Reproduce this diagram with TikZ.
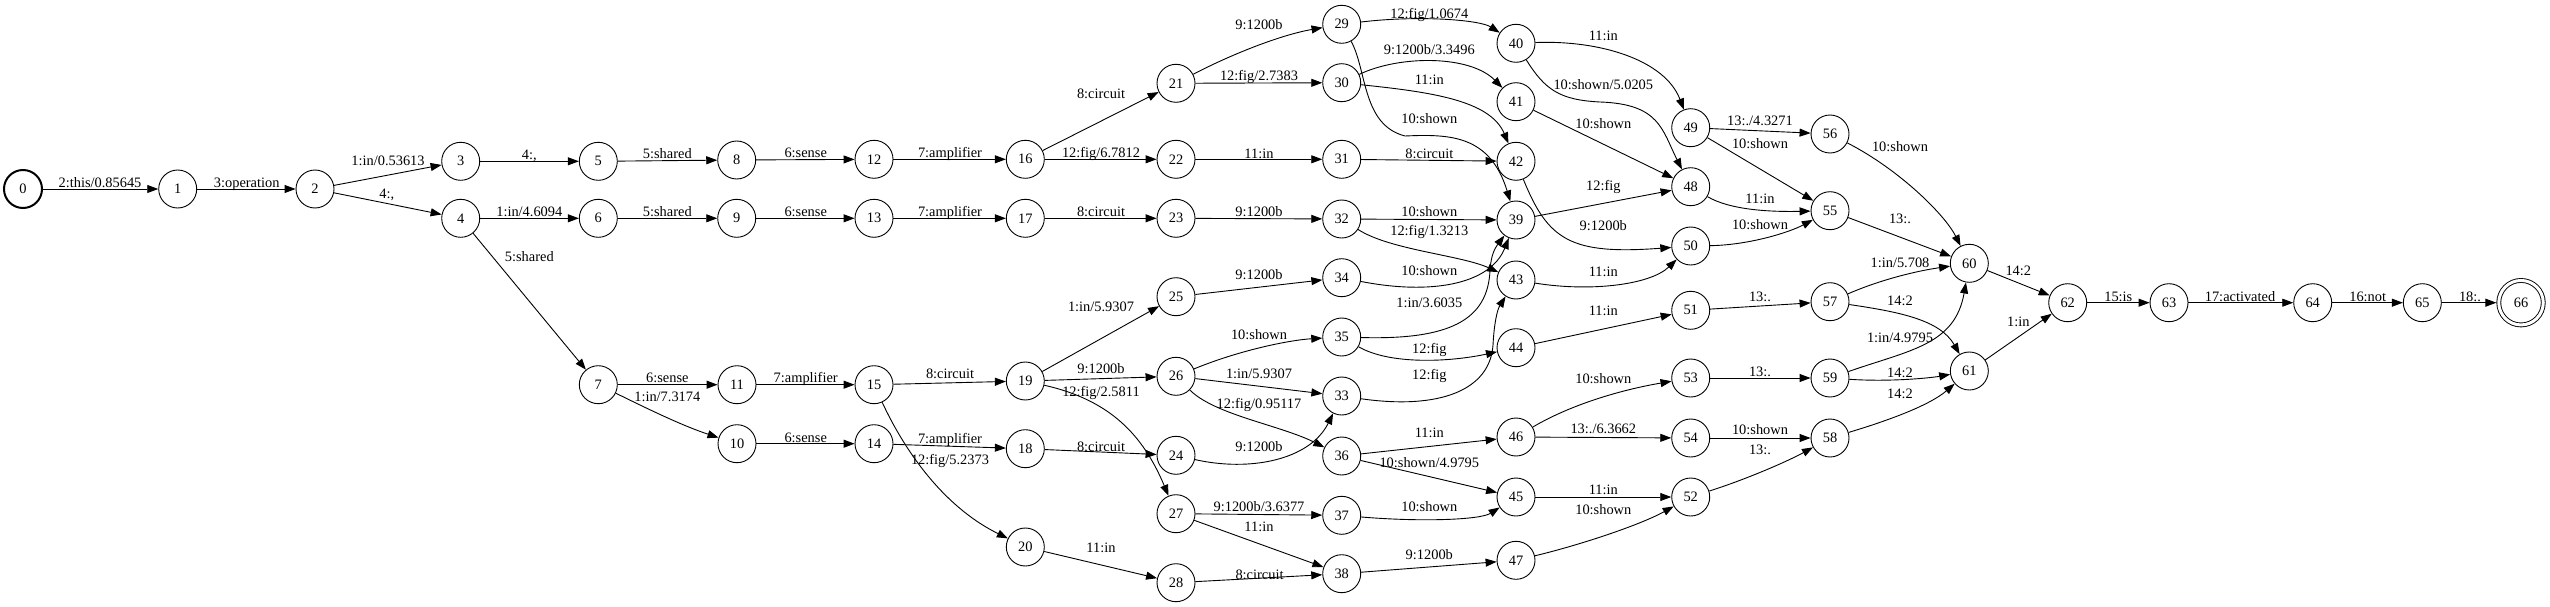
\documentclass[tikz,border=0pt]{standalone}
\usepackage{fontspec}
\setmainfont{Liberation Serif}
\usetikzlibrary{arrows.meta}
\tikzset{
  state/.style={circle, draw, line width=0.9pt, minimum size=38pt, inner sep=0pt, font=\fontsize{14.4}{16}\selectfont},
  final/.style={state, double, double distance=3pt, minimum size=44.5pt, outer sep=2.4pt},
  arr/.style={-{Triangle[length=11pt,width=8pt]}, line width=0.9pt},
  lbl/.style={inner sep=0pt, text height=10pt, text depth=0pt, font=\fontsize{14.4}{16}\selectfont},
}
\begin{document}
\begin{tikzpicture}[x=1pt,y=1pt,yscale=-1]
\useasboundingbox (0,0) rectangle (2550,607);

%Shape: Circle states
\node[state, line width=2pt] (n0) at (23,189) {0};
\node[state] (n1) at (177.7,189) {1};
\node[state] (n2) at (315,189) {2};
\node[state] (n3) at (460.7,161.3) {3};
\node[state] (n4) at (460.7,218.3) {4};
\node[state] (n5) at (598.3,161.3) {5};
\node[state] (n6) at (598.3,218.3) {6};
\node[state] (n7) at (598.3,384.7) {7};
\node[state] (n8) at (736.7,160) {8};
\node[state] (n9) at (736.7,218.3) {9};
\node[state] (n10) at (737,443.7) {10};
\node[state] (n11) at (737,384.7) {11};
\node[state] (n12) at (874,159.3) {12};
\node[state] (n13) at (874,218.3) {13};
\node[state] (n14) at (874,443.7) {14};
\node[state] (n15) at (874,384.7) {15};
\node[state] (n16) at (1025.3,159.3) {16};
\node[state] (n17) at (1025.3,218.3) {17};
\node[state] (n18) at (1025.3,448.7) {18};
\node[state] (n19) at (1025.3,381) {19};
\node[state] (n20) at (1025.3,547) {20};
\node[state] (n21) at (1176,83.3) {21};
\node[state] (n22) at (1176,159.3) {22};
\node[state] (n23) at (1176,218.3) {23};
\node[state] (n24) at (1176,455.3) {24};
\node[state] (n25) at (1176,296.7) {25};
\node[state] (n26) at (1176,376.3) {26};
\node[state] (n27) at (1176,513.7) {27};
\node[state] (n28) at (1176,582.7) {28};
\node[state] (n29) at (1341.7,24.3) {29};
\node[state] (n30) at (1341.7,82.7) {30};
\node[state] (n31) at (1341.7,159.3) {31};
\node[state] (n32) at (1341.7,219) {32};
\node[state] (n33) at (1341.7,396) {33};
\node[state] (n34) at (1341.7,277.7) {34};
\node[state] (n35) at (1341.7,337) {35};
\node[state] (n36) at (1341.7,456) {36};
\node[state] (n37) at (1341.7,515.3) {37};
\node[state] (n38) at (1341.7,573.7) {38};
\node[state] (n39) at (1516,220) {39};
\node[state] (n40) at (1516,43.3) {40};
\node[state] (n41) at (1516,101.7) {41};
\node[state] (n42) at (1516,161.3) {42};
\node[state] (n43) at (1516,280) {43};
\node[state] (n44) at (1516,347.7) {44};
\node[state] (n45) at (1516,497) {45};
\node[state] (n46) at (1516,437) {46};
\node[state] (n47) at (1516,560.3) {47};
\node[state] (n48) at (1690.7,186.7) {48};
\node[state] (n49) at (1690.7,127.7) {49};
\node[state] (n50) at (1690.7,246) {50};
\node[state] (n51) at (1690.7,310.3) {51};
\node[state] (n52) at (1690.7,497) {52};
\node[state] (n53) at (1690.7,378) {53};
\node[state] (n54) at (1690.7,438) {54};
\node[state] (n55) at (1830,210.7) {55};
\node[state] (n56) at (1830,134) {56};
\node[state] (n57) at (1830,301.7) {57};
\node[state] (n58) at (1830,438) {58};
\node[state] (n59) at (1830,378) {59};
\node[state] (n60) at (1969.3,263.3) {60};
\node[state] (n61) at (1969.3,371) {61};
\node[state] (n62) at (2067.7,302.7) {62};
\node[state] (n63) at (2169,302.7) {63};
\node[state] (n64) at (2312.7,302.7) {64};
\node[state] (n65) at (2422.3,302.7) {65};
\node[final] (n66) at (2521,302.7) {66};

%Straight Lines and Curve Lines
\draw[arr] (n0) -- (n1);
\draw[arr] (n1) -- (n2);
\draw[arr] (n2) -- (n3);
\draw[arr] (n2) -- (n4);
\draw[arr] (n3) -- (n5);
\draw[arr] (n5) -- (n8);
\draw[arr] (n8) -- (n12);
\draw[arr] (n4) -- (n6);
\draw[arr] (n6) -- (n9);
\draw[arr] (n9) -- (n13);
\draw[arr] (n4) -- (n7);
\draw[arr] (n7) -- (n11);
\draw[arr] (n7) .. controls (640,405) and (680,425) .. (n10);
\draw[arr] (n11) -- (n15);
\draw[arr] (n10) -- (n14);
\draw[arr] (n12) -- (n16);
\draw[arr] (n13) -- (n17);
\draw[arr] (n16) -- (n21);
\draw[arr] (n16) -- (n22);
\draw[arr] (n17) -- (n23);
\draw[arr] (n15) -- (n19);
\draw[arr] (n14) -- (n18);
\draw[arr] (n15) .. controls (902,445) and (940,505) .. (n20);
\draw[arr] (n18) -- (n24);
\draw[arr] (n19) -- (n25);
\draw[arr] (n19) -- (n26);
\draw[arr] (n19) .. controls (1110,400) and (1143,435) .. (n27);
\draw[arr] (n20) -- (n28);
\draw[arr] (n21) .. controls (1230,55) and (1280,35) .. (n29);
\draw[arr] (n21) -- (n30);
\draw[arr] (n22) -- (n31);
\draw[arr] (n23) -- (n32);
\draw[arr] (n25) -- (n34);
\draw[arr] (n24) .. controls (1250,472) and (1310,460) .. (n33);
\draw[arr] (n26) .. controls (1240,350) and (1290,340) .. (n35);
\draw[arr] (n26) -- (n33);
\draw[arr] (n26) .. controls (1215,415) and (1280,425) .. (n36);
\draw[arr] (n27) -- (n37);
\draw[arr] (n27) -- (n38);
\draw[arr] (n28) -- (n38);
\draw[arr] (n29) .. controls (1420,15) and (1480,20) .. (n40);
\draw[arr] (n29) .. controls (1367,70) and (1362,125) .. (1405,136) .. controls (1450,134) and (1490,135) .. (n39);
\draw[arr] (n30) .. controls (1400,55) and (1470,55) .. (n41);
\draw[arr] (n30) .. controls (1430,92) and (1490,100) .. (n42);
\draw[arr] (n31) -- (n42);
\draw[arr] (n32) -- (n39);
\draw[arr] (n32) .. controls (1390,250) and (1460,255) .. (n43);
\draw[arr] (n34) .. controls (1430,295) and (1490,285) .. (n39);
\draw[arr] (n35) .. controls (1450,340) and (1488,320) .. (1490,270) .. controls (1491,255) and (1495,248) .. (n39);
\draw[arr] (n35) .. controls (1390,365) and (1450,362) .. (n44);
\draw[arr] (n33) .. controls (1440,410) and (1490,390) .. (1493,345) .. controls (1494,325) and (1497,310) .. (n43);
\draw[arr] (n36) -- (n46);
\draw[arr] (n36) -- (n45);
\draw[arr] (n37) .. controls (1420,522) and (1480,520) .. (n45);
\draw[arr] (n38) -- (n47);
\draw[arr] (n40) .. controls (1600,40) and (1665,60) .. (n49);
\draw[arr] (n40) .. controls (1545,90) and (1560,100) .. (1600,102) .. controls (1660,104) and (1662,130) .. (n48);
\draw[arr] (n41) -- (n48);
\draw[arr] (n39) -- (n48);
\draw[arr] (n42) .. controls (1548,240) and (1570,255) .. (n50);
\draw[arr] (n43) .. controls (1590,292) and (1650,285) .. (n50);
\draw[arr] (n44) -- (n51);
\draw[arr] (n46) .. controls (1570,405) and (1620,390) .. (n53);
\draw[arr] (n46) -- (n54);
\draw[arr] (n45) -- (n52);
\draw[arr] (n47) .. controls (1580,545) and (1640,525) .. (n52);
\draw[arr] (n49) -- (n56);
\draw[arr] (n49) -- (n55);
\draw[arr] (n48) .. controls (1730,210) and (1770,212) .. (n55);
\draw[arr] (n50) .. controls (1750,245) and (1790,232) .. (n55);
\draw[arr] (n51) -- (n57);
\draw[arr] (n53) -- (n59);
\draw[arr] (n54) -- (n58);
\draw[arr] (n52) .. controls (1750,478) and (1790,460) .. (n58);
\draw[arr] (n56) .. controls (1900,170) and (1945,215) .. (n60);
\draw[arr] (n55) -- (n60);
\draw[arr] (n57) .. controls (1875,282) and (1910,272) .. (n60);
\draw[arr] (n57) .. controls (1900,312) and (1940,320) .. (n61);
\draw[arr] (n59) .. controls (1910,350) and (1955,345) .. (n60);
\draw[arr] (n59) .. controls (1890,382) and (1930,378) .. (n61);
\draw[arr] (n58) .. controls (1890,420) and (1930,405) .. (n61);
\draw[arr] (n60) -- (n62);
\draw[arr] (n61) -- (n62);
\draw[arr] (n62) -- (n63);
\draw[arr] (n63) -- (n64);
\draw[arr] (n64) -- (n65);
\draw[arr] (n65) -- (n66);

% Text Node
\draw (100,182) node [lbl] (t0-1) {2:this/0.85645};
\draw (246.7,182) node [lbl] (t1-2) {3:operation};
\draw (388,160) node [lbl] (t2-3) {1:in/0.53613};
\draw (386.7,193.3) node [lbl] (t2-4) {4:,};
\draw (529.3,155) node [lbl] (t3-5) {4:,};
\draw (667.3,153.3) node [lbl] (t5-8) {5:shared};
\draw (805.7,152.7) node [lbl] (t8-12) {6:sense};
\draw (529.3,211) node [lbl] (t4-6) {1:in/4.6094};
\draw (667.3,211) node [lbl] (t6-9) {5:shared};
\draw (805.7,211.7) node [lbl] (t9-13) {6:sense};
\draw (529.3,256) node [lbl] (t4-7) {5:shared};
\draw (667.3,377.7) node [lbl] (t7-11) {6:sense};
\draw (667.3,396.3) node [lbl] (t7-10) {1:in/7.3174};
\draw (805.7,377.7) node [lbl] (t11-15) {7:amplifier};
\draw (805.7,437.7) node [lbl] (t10-14) {6:sense};
\draw (950,152.7) node [lbl] (t12-16) {7:amplifier};
\draw (950,211.7) node [lbl] (t13-17) {7:amplifier};
\draw (950,373.7) node [lbl] (t15-19) {8:circuit};
\draw (950,438.7) node [lbl] (t14-18) {7:amplifier};
\draw (950,459.3) node [lbl] (t15-20) {12:fig/5.2373};
\draw (1101,93.3) node [lbl] (t16-21) {8:circuit};
\draw (1101,152.7) node [lbl] (t16-22) {12:fig/6.7812};
\draw (1101,211.7) node [lbl] (t17-23) {8:circuit};
\draw (1101,306.3) node [lbl] (t19-25) {1:in/5.9307};
\draw (1101,368.7) node [lbl] (t19-26) {9:1200b};
\draw (1101,391.3) node [lbl] (t19-27) {12:fig/2.5811};
\draw (1101,446) node [lbl] (t18-24) {8:circuit};
\draw (1101,547.7) node [lbl] (t20-28) {11:in};
\draw (1259,25) node [lbl] (t21-29) {9:1200b};
\draw (1259,76) node [lbl] (t21-30) {12:fig/2.7383};
\draw (1259,153) node [lbl] (t22-31) {11:in};
\draw (1259,211) node [lbl] (t23-32) {9:1200b};
\draw (1259,274) node [lbl] (t25-34) {9:1200b};
\draw (1259,334) node [lbl] (t26-35) {10:shown};
\draw (1259,373.5) node [lbl] (t26-33) {1:in/5.9307};
\draw (1259,403) node [lbl] (t26-36) {12:fig/0.95117};
\draw (1259,446) node [lbl] (t24-33) {9:1200b};
\draw (1259,506.3) node [lbl] (t27-37) {9:1200b/3.6377};
\draw (1259,526) node [lbl] (t27-38) {11:in};
\draw (1259.5,574) node [lbl] (t28-38) {8:circuit};
\draw (1429.3,13.3) node [lbl] (t29-40) {12:fig/1.0674};
\draw (1429.3,49.3) node [lbl] (t30-41) {9:1200b/3.3496};
\draw (1429.3,80) node [lbl] (t30-42) {11:in};
\draw (1429.3,118.3) node [lbl] (t29-39) {10:shown};
\draw (1429.3,153.3) node [lbl] (t31-42) {8:circuit};
\draw (1429.3,211.7) node [lbl] (t32-39) {10:shown};
\draw (1429.3,230.7) node [lbl] (t32-43) {12:fig/1.3213};
\draw (1429.3,270) node [lbl] (t34-39) {10:shown};
\draw (1429.3,302) node [lbl] (t35-39) {1:in/3.6035};
\draw (1429.3,348.7) node [lbl] (t35-44) {12:fig};
\draw (1429.3,374.3) node [lbl] (t33-43) {12:fig};
\draw (1429.3,432) node [lbl] (t36-46) {11:in};
\draw (1429.3,462) node [lbl] (t36-45) {10:shown/4.9795};
\draw (1429.3,506) node [lbl] (t37-45) {10:shown};
\draw (1429.3,554.7) node [lbl] (t38-47) {9:1200b};
\draw (1603.3,36) node [lbl] (t40-49) {11:in};
\draw (1603.3,85) node [lbl] (t40-48) {10:shown/5.0205};
\draw (1603.3,123.3) node [lbl] (t41-48) {10:shown};
\draw (1603.3,185.7) node [lbl] (t39-48) {12:fig};
\draw (1603.3,225) node [lbl] (t42-50) {9:1200b};
\draw (1603.3,271.7) node [lbl] (t43-50) {11:in};
\draw (1603.3,310.3) node [lbl] (t44-51) {11:in};
\draw (1603.3,378) node [lbl] (t46-53) {10:shown};
\draw (1603.3,428.7) node [lbl] (t46-54) {13:./6.3662};
\draw (1603.3,489.7) node [lbl] (t45-52) {11:in};
\draw (1603.3,509.3) node [lbl] (t47-52) {10:shown};
\draw (1760,120.7) node [lbl] (t49-56) {13:./4.3271};
\draw (1760,143.3) node [lbl] (t49-55) {10:shown};
\draw (1760,198.3) node [lbl] (t48-55) {11:in};
\draw (1760,224) node [lbl] (t50-55) {10:shown};
\draw (1760,296) node [lbl] (t51-57) {13:.};
\draw (1760,371) node [lbl] (t53-59) {13:.};
\draw (1760,429.7) node [lbl] (t54-58) {10:shown};
\draw (1760,449.3) node [lbl] (t52-58) {13:.};
\draw (1900,146.7) node [lbl] (t56-60) {10:shown};
\draw (1900,218.3) node [lbl] (t55-60) {13:.};
\draw (1900,262.7) node [lbl] (t57-60) {1:in/5.708};
\draw (1900,300.7) node [lbl] (t57-61) {14:2};
\draw (1900,337) node [lbl] (t59-60) {1:in/4.9795};
\draw (1900,372) node [lbl] (t59-61) {14:2};
\draw (1900,393.7) node [lbl] (t58-61) {14:2};
\draw (2018.3,270) node [lbl] (t60-62) {14:2};
\draw (2018.3,321) node [lbl] (t61-62) {1:in};
\draw (2118.3,296) node [lbl] (t62-63) {15:is};
\draw (2240,296) node [lbl] (t63-64) {17:activated};
\draw (2367.7,296) node [lbl] (t64-65) {16:not};
\draw (2470,296) node [lbl] (t65-66) {18:.};

\end{tikzpicture}
\end{document}
